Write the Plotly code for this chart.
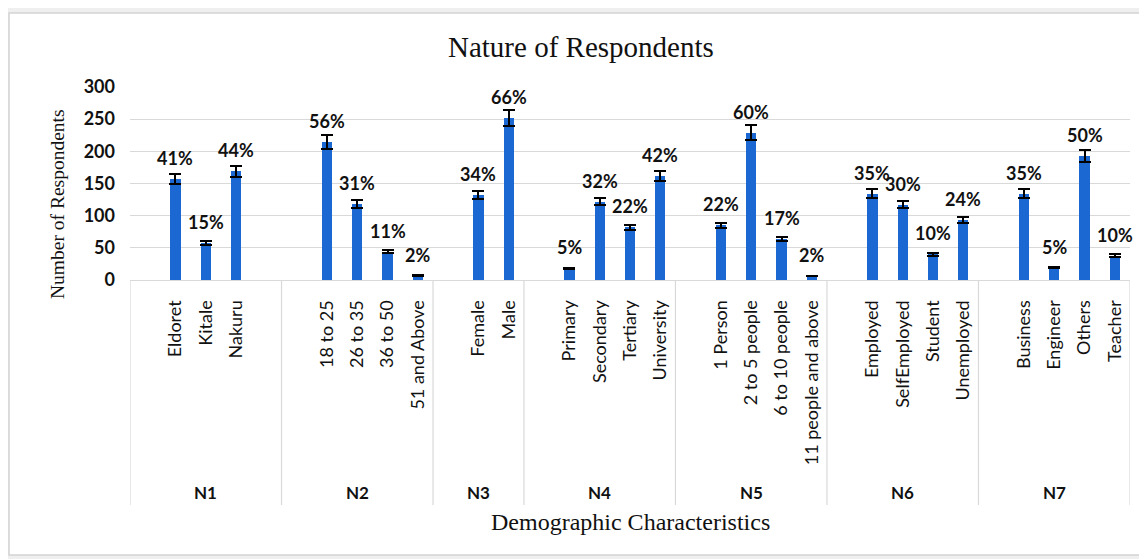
import plotly.graph_objects as go

# ---------------- data ----------------
groups = ["N1", "N2", "N3", "N4", "N5", "N6", "N7"]

# "" entries are the empty category rows of the source table (gaps on the axis)
n1_cats = ["", "Eldoret", "Kitale", "Nakuru", ""]
n1_vals = [None, 157, 58, 169, None]
n1_pct = ["", "41%", "15%", "44%", ""]

n2_cats = ["", "18 to 25", "26 to 35", "36 to 50", "51 and Above"]
n2_vals = [None, 215, 118, 44, 7]
n2_pct = ["", "56%", "31%", "11%", "2%"]

n3_cats = ["", "Female", "Male"]
n3_vals = [None, 132, 252]
n3_pct = ["", "34%", "66%"]

n4_cats = ["", "Primary", "Secondary", "Tertiary", "University"]
n4_vals = [None, 18, 122, 82, 162]
n4_pct = ["", "5%", "32%", "22%", "42%"]

n5_cats = ["", "1 Person", "2 to 5 people", "6 to 10 people", "11 people and above"]
n5_vals = [None, 85, 229, 64, 6]
n5_pct = ["", "22%", "60%", "17%", "2%"]

n6_cats = ["", "Employed", "SelfEmployed", "Student", "Unemployed"]
n6_vals = [None, 134, 117, 40, 93]
n6_pct = ["", "35%", "30%", "10%", "24%"]

n7_cats = ["", "Business", "Engineer", "Others", "Teacher"]
n7_vals = [None, 134, 19, 193, 38]
n7_pct = ["", "35%", "5%", "50%", "10%"]

y_ticks = [0, 50, 100, 150, 200, 250, 300]
error_percent = 5

all_cats = [n1_cats, n2_cats, n3_cats, n4_cats, n5_cats, n6_cats, n7_cats]
all_vals = [n1_vals, n2_vals, n3_vals, n4_vals, n5_vals, n6_vals, n7_vals]
all_pct = [n1_pct, n2_pct, n3_pct, n4_pct, n5_pct, n6_pct, n7_pct]

# ---------------- layout of slots ----------------
BLUE = "#1C68D2"
GRID = "#d9d9d9"
SANS = "Lato"
SERIF = "Liberation Serif"

xs, ys, labels, tickvals, ticktext = [], [], [], [], []
bounds = [-0.5]
centers = []
pos = 0
for cats, vals, pcts in zip(all_cats, all_vals, all_pct):
    start = pos
    for c, v, p in zip(cats, vals, pcts):
        if v is not None:
            xs.append(pos)
            ys.append(v)
            labels.append(p)
            tickvals.append(pos)
            ticktext.append(c)
        pos += 1
    bounds.append(pos - 0.5)
    centers.append((start + pos - 1) / 2)

fig = go.Figure()
fig.add_trace(go.Bar(
    x=xs, y=ys, width=0.34,
    marker=dict(color=BLUE, line=dict(width=0)),
    error_y=dict(type="percent", value=error_percent, color="black",
                 thickness=2, width=6),
    hoverinfo="x+y",
))

annotations = []
for x, y, t in zip(xs, ys, labels):
    annotations.append(dict(x=x, y=y, xref="x", yref="y", text=t, showarrow=False,
                            xanchor="center", yanchor="middle", yshift=21,
                            font=dict(family=SANS, size=18, color="#111", weight="bold")))

# screen-pixel helpers (plot area spans x 130..1130, y 87..280 on screen)
def py(px):
    return (280 - px) / 193.0

def pxx(px):
    return (px - 130) / 1000.0

for g, c in zip(groups, centers):
    annotations.append(dict(x=c, y=py(492), xref="x", yref="paper", text=g, showarrow=False,
                            xanchor="center", yanchor="middle",
                            font=dict(family=SANS, size=17, color="#111", weight="bold")))

annotations.append(dict(x=pxx(581), y=py(47), xref="paper", yref="paper",
                        text="Nature of Respondents", showarrow=False,
                        xanchor="center", yanchor="middle",
                        font=dict(family=SERIF, size=29, color="#111")))
annotations.append(dict(x=0.5, y=py(522), xref="paper", yref="paper",
                        text="Demographic Characteristics", showarrow=False,
                        xanchor="center", yanchor="middle",
                        font=dict(family=SERIF, size=24, color="#111")))
annotations.append(dict(x=pxx(57), y=py(204), xref="paper", yref="paper",
                        text="Number of Respondents", showarrow=False, textangle=-90,
                        xanchor="center", yanchor="middle",
                        font=dict(family=SERIF, size=19.5, color="#111")))

shapes = [dict(type="rect", xref="paper", yref="paper",
               x0=pxx(9), x1=pxx(1142), y0=py(555), y1=py(13),
               fillcolor="white", line=dict(color="#d4d4d4", width=1.5), layer="below")]
for b in bounds:
    shapes.append(dict(type="line", xref="x", yref="paper", x0=b, x1=b,
                       y0=0, y1=py(505), line=dict(color=GRID, width=1.2)))

# page body has an 8px margin, so the figure is offset by 8px on screen
fig.update_layout(
    width=1147, height=559,
    margin=dict(l=122, r=25, t=79, b=287, autoexpand=False),
    paper_bgcolor="#efefef",
    plot_bgcolor="white",
    showlegend=False,
    bargap=0,
    annotations=annotations,
    shapes=shapes,
)
fig.update_xaxes(range=[-0.5, pos - 0.5], tickvals=tickvals, ticktext=ticktext,
                 tickangle=-90, ticks="", showgrid=False, zeroline=False,
                 showline=True, linecolor=GRID, linewidth=1.2,
                 ticklabelstandoff=12, automargin=False,
                 tickfont=dict(family=SANS, size=18, color="#111"))
fig.update_yaxes(range=[0, 300], tickvals=y_ticks, showgrid=True, gridcolor=GRID,
                 gridwidth=1.2, zeroline=False, showline=False, ticks="",
                 ticklabelstandoff=14, automargin=False,
                 tickfont=dict(family=SANS, size=18, color="#111", weight="bold"))

fig.write_html("out.html")
